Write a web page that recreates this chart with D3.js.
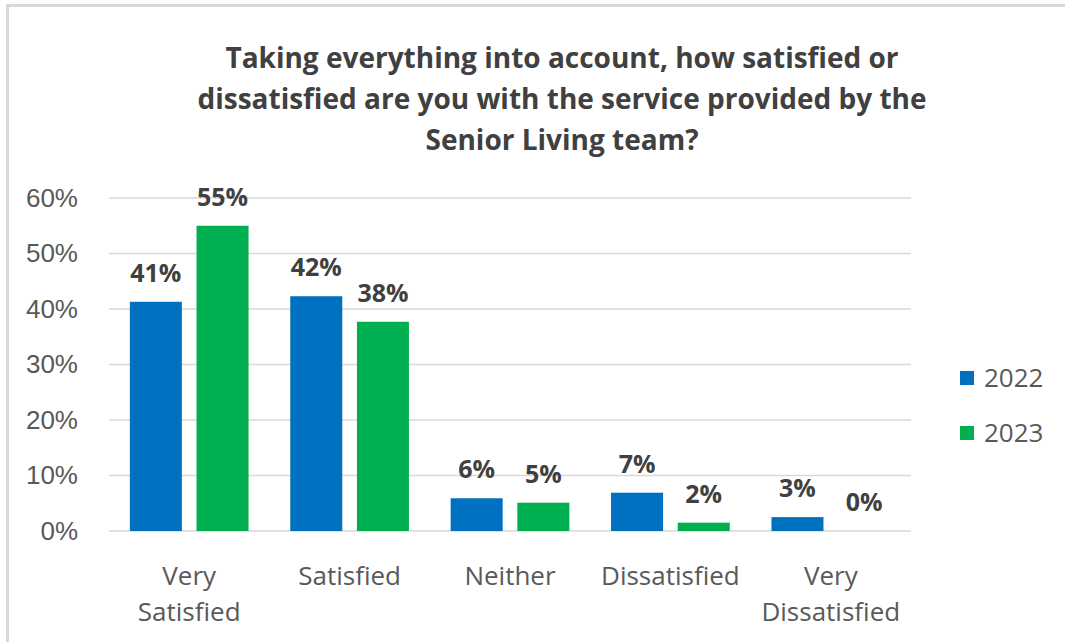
<!DOCTYPE html>
<html>
<head>
<meta charset="utf-8">
<script src="https://cdn.jsdelivr.net/npm/d3@7"></script>
<style>
  body { margin: 0; background: #fff; }
  svg { display: block; font-family: "Open Sans", "Noto Sans", sans-serif; }
</style>
</head>
<body>
<div id="chart"></div>
<script>
const categories = [['Very', 'Satisfied'], ['Satisfied'], ['Neither'], ['Dissatisfied'], ['Very', 'Dissatisfied']];
const seriesNames = ['2022', '2023'];
const values2022 = [41.3, 42.3, 5.9, 6.9, 2.5];
const values2023 = [55.0, 37.7, 5.1, 1.5, 0];
const labels2022 = ['41%', '42%', '6%', '7%', '3%'];
const labels2023 = ['55%', '38%', '5%', '2%', '0%'];
const yTicks = [0, 10, 20, 30, 40, 50, 60];
const titleLines = [
  'Taking everything into account, how satisfied or',
  'dissatisfied are you with the service provided by the',
  'Senior Living team?'
];

const colors = ['#0070c0', '#00b050'];
const width = 1065, height = 642;
const margin = { top: 198, right: 154, bottom: 111, left: 109 };
const innerW = width - margin.left - margin.right;
const innerH = height - margin.top - margin.bottom;

const svg = d3.select('#chart').append('svg')
  .attr('width', width)
  .attr('height', height);

// outer frame (left and top edges visible)
svg.append('line').attr('x1', 7.5).attr('x2', 7.5).attr('y1', 5).attr('y2', height)
  .attr('stroke', '#d9d9d9').attr('stroke-width', 3);
svg.append('line').attr('x1', 6).attr('x2', width).attr('y1', 5.5).attr('y2', 5.5)
  .attr('stroke', '#d9d9d9').attr('stroke-width', 3);

// title
svg.append('text')
  .attr('x', 562).attr('y', 68)
  .attr('text-anchor', 'middle')
  .style('font-size', '28px').style('font-weight', 700).attr('fill', '#404040')
  .selectAll('tspan')
  .data(titleLines)
  .enter()
  .append('tspan')
  .attr('x', 562)
  .attr('dy', (d, i) => i === 0 ? 0 : 41)
  .text((d) => d);

const g = svg.append('g').attr('transform', `translate(${margin.left},${margin.top})`);

const x0 = d3.scaleBand()
  .domain(d3.range(categories.length))
  .range([0, innerW])
  .paddingInner(0.26)
  .paddingOuter(0.13);
const x1 = d3.scaleBand()
  .domain(seriesNames)
  .range([0, x0.bandwidth()])
  .paddingInner(0.22);
const y = d3.scaleLinear().domain([0, 60]).range([innerH, 0]);

// gridlines
g.append('g')
  .selectAll('line')
  .data(yTicks)
  .enter()
  .append('line')
  .attr('x1', 0).attr('x2', innerW)
  .attr('y1', (d) => y(d)).attr('y2', (d) => y(d))
  .attr('stroke', '#d9d9d9').attr('stroke-width', 1.5);

// y axis
const yAxis = g.append('g')
  .call(d3.axisLeft(y).tickValues(yTicks).tickFormat((d) => d + '%').tickSize(0).tickPadding(31));
yAxis.select('.domain').remove();
yAxis.selectAll('text').style('font-size', '26px').attr('fill', '#595959');

// bars
const series = [
  { name: '2022', values: values2022, labels: labels2022 },
  { name: '2023', values: values2023, labels: labels2023 }
];

series.forEach((s, si) => {
  const grp = g.append('g').attr('class', 'series' + s.name);
  grp.selectAll('rect')
    .data(s.values)
    .enter()
    .append('rect')
    .attr('x', (d, i) => x0(i) + x1(s.name))
    .attr('y', (d) => y(d))
    .attr('width', x1.bandwidth())
    .attr('height', (d) => innerH - y(d))
    .attr('fill', colors[si]);
  grp.selectAll('text')
    .data(s.values)
    .enter()
    .append('text')
    .attr('x', (d, i) => x0(i) + x1(s.name) + x1.bandwidth() / 2)
    .attr('y', (d) => y(d) - 20)
    .attr('text-anchor', 'middle')
    .style('font-size', '25px').style('font-weight', 700).attr('fill', '#404040')
    .text((d, i) => s.labels[i]);
});

// x axis labels
const xl = g.append('g');
categories.forEach((lines, i) => {
  const t = xl.append('text')
    .attr('x', x0(i) + x0.bandwidth() / 2)
    .attr('y', innerH + 54)
    .attr('text-anchor', 'middle')
    .style('font-size', '26px').attr('fill', '#595959');
  lines.forEach((line, li) => {
    t.append('tspan')
      .attr('x', x0(i) + x0.bandwidth() / 2)
      .attr('dy', li === 0 ? 0 : 36)
      .text(line);
  });
});

// legend
const legend = svg.append('g').attr('transform', 'translate(960,371)');
seriesNames.forEach((name, i) => {
  const row = legend.append('g').attr('transform', `translate(0,${i * 55})`);
  row.append('rect').attr('width', 14).attr('height', 14).attr('fill', colors[i]);
  row.append('text').attr('x', 24).attr('y', 16)
    .style('font-size', '26px').attr('fill', '#595959').text(name);
});
</script>
</body>
</html>
